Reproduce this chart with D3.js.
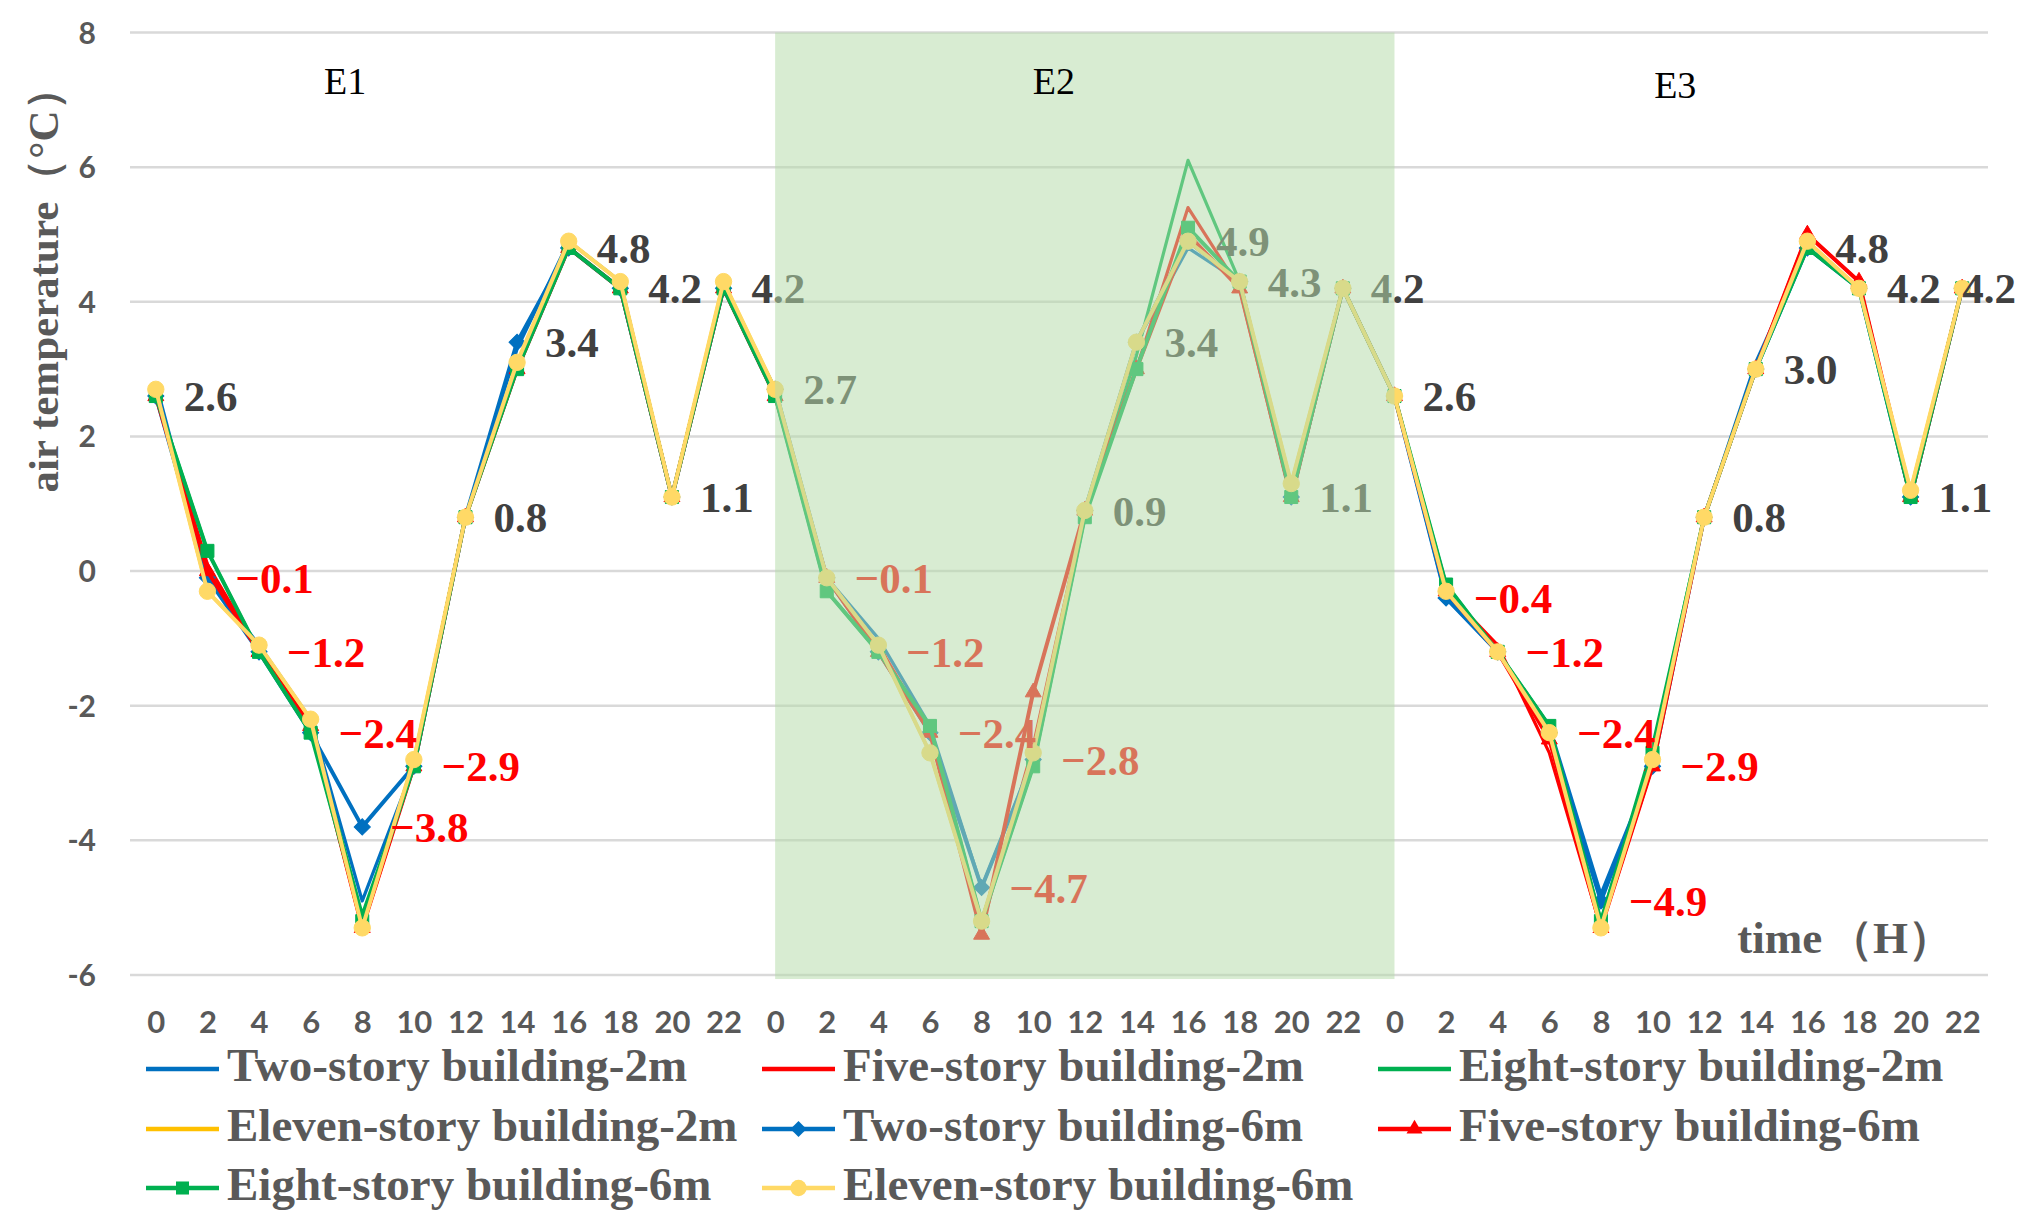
<!DOCTYPE html>
<html>
<head>
<meta charset="utf-8">
<script src="https://cdn.jsdelivr.net/npm/d3@7"></script>
<style>
  body { margin: 0; background: #fff; }
</style>
</head>
<body>
<svg id="chart"></svg>
<script>
// x categories: hours, repeated for the three experiments E1, E2, E3
const hours = [0, 2, 4, 6, 8, 10, 12, 14, 16, 18, 20, 22];
const timeLabels = hours.concat(hours, hours);
const yTicks = [-6, -4, -2, 0, 2, 4, 6, 8];

// air temperature (°C), 36 values each
const twoStory2m = [2.8, -0.1, -1.1, -2.2, -4.9, -2.9, 0.8, 3.3, 4.9, 4.3, 1.1, 4.2,
                    2.6, -0.1, -1.0, -2.3, -4.7, -2.8, 0.9, 3.4, 4.8, 4.3, 1.1, 4.2,
                    2.6, -0.4, -1.2, -2.3, -4.8, -2.9, 0.8, 3.1, 4.8, 4.2, 1.1, 4.2];
const fiveStory2m = [2.6, 0.1, -1.2, -2.3, -5.3, -2.9, 0.8, 3.0, 4.8, 4.2, 1.1, 4.2,
                     2.6, -0.1, -1.1, -2.4, -5.3, -2.6, 0.9, 3.0, 5.4, 4.2, 1.05, 4.2,
                     2.6, -0.3, -1.1, -2.7, -5.3, -2.9, 0.8, 3.0, 5.0, 4.3, 1.1, 4.2];
const eightStory2m = [2.6, 0.3, -1.2, -2.3, -5.1, -2.9, 0.8, 3.0, 4.8, 4.2, 1.1, 4.2,
                      2.6, -0.3, -1.2, -2.3, -5.2, -2.9, 0.8, 3.2, 6.1, 4.3, 1.1, 4.2,
                      2.6, -0.2, -1.2, -2.3, -5.2, -2.6, 0.8, 3.0, 4.8, 4.2, 1.1, 4.2];
const elevenStory2m = [2.7, -0.3, -1.1, -2.3, -5.3, -2.8, 0.8, 3.0, 4.9, 4.3, 1.1, 4.3,
                       2.7, -0.1, -1.1, -2.7, -5.2, -2.7, 0.9, 3.4, 4.9, 4.3, 1.3, 4.2,
                       2.6, -0.3, -1.2, -2.4, -5.3, -2.8, 0.8, 3.0, 4.9, 4.2, 1.2, 4.2];
const twoStory6m = [2.6, -0.1, -1.2, -2.4, -3.8, -2.9, 0.8, 3.4, 4.8, 4.2, 1.1, 4.2,
                    2.7, -0.1, -1.2, -2.4, -4.7, -2.8, 0.9, 3.4, 4.9, 4.3, 1.1, 4.2,
                    2.6, -0.4, -1.2, -2.4, -4.9, -2.9, 0.8, 3.0, 4.8, 4.2, 1.1, 4.2];
const fiveStory6m = [2.6, 0.0, -1.2, -2.3, -5.3, -2.9, 0.8, 3.0, 4.8, 4.2, 1.1, 4.2,
                     2.6, -0.1, -1.2, -2.4, -5.4, -1.8, 0.9, 3.0, 5.0, 4.2, 1.1, 4.2,
                     2.6, -0.3, -1.2, -2.5, -5.3, -2.9, 0.8, 3.0, 5.0, 4.3, 1.1, 4.2];
const eightStory6m = [2.6, 0.3, -1.2, -2.4, -5.2, -2.9, 0.8, 3.0, 4.8, 4.2, 1.1, 4.2,
                      2.6, -0.3, -1.2, -2.3, -5.2, -2.9, 0.8, 3.0, 5.1, 4.3, 1.1, 4.2,
                      2.6, -0.2, -1.2, -2.3, -5.2, -2.7, 0.8, 3.0, 4.8, 4.2, 1.1, 4.2];
const elevenStory6m = [2.7, -0.3, -1.1, -2.2, -5.3, -2.8, 0.8, 3.1, 4.9, 4.3, 1.1, 4.3,
                       2.7, -0.1, -1.1, -2.7, -5.2, -2.7, 0.9, 3.4, 4.9, 4.3, 1.3, 4.2,
                       2.6, -0.3, -1.2, -2.4, -5.3, -2.8, 0.8, 3.0, 4.9, 4.2, 1.2, 4.2];

// experiment names and where they sit (category index, temperature)
const experiments = ["E1", "E2", "E3"];
const experimentPos = [[3.67, 7.09], [17.4, 7.09], [29.44, 7.03]];
// shaded E2 range in category index
const shadedRange = [12, 24];

const series = [
  { name: "Two-story building-2m", values: twoStory2m, color: "#0070C0", marker: null },
  { name: "Five-story building-2m", values: fiveStory2m, color: "#FF0000", marker: null },
  { name: "Eight-story building-2m", values: eightStory2m, color: "#00B050", marker: null },
  { name: "Eleven-story building-2m", values: elevenStory2m, color: "#FFC000", marker: null },
  { name: "Two-story building-6m", values: twoStory6m, color: "#0070C0", marker: "diamond" },
  { name: "Five-story building-6m", values: fiveStory6m, color: "#FF0000", marker: "triangle" },
  { name: "Eight-story building-6m", values: eightStory6m, color: "#00B050", marker: "square" },
  { name: "Eleven-story building-6m", values: elevenStory6m, color: "#FFD966", marker: "circle" }
];

const svgWidth = 2028;
const svgHeight = 1232;
const plot = { left: 130, right: 1988, top: 32.5, bottom: 975 };

const svg = d3.select("#chart")
    .attr("width", svgWidth)
    .attr("height", svgHeight)
    .style("background", "#fff");

const x = d3.scaleLinear()
    .domain([-0.5, timeLabels.length - 0.5])
    .range([plot.left, plot.right]);

const y = d3.scaleLinear()
    .domain([-6, 8])
    .range([plot.bottom, plot.top]);

const serif = "'Liberation Serif', 'Times New Roman', serif";
const sans = "Lato, 'Open Sans', sans-serif";

// gridlines
svg.append("g")
  .selectAll("line")
  .data(yTicks)
  .enter().append("line")
    .attr("x1", plot.left)
    .attr("x2", plot.right)
    .attr("y1", d => y(d))
    .attr("y2", d => y(d))
    .attr("stroke", "#d9d9d9")
    .attr("stroke-width", 2.5);

// y axis
const yAxis = svg.append("g")
    .attr("transform", `translate(${plot.left},0)`)
    .call(d3.axisLeft(y).tickValues(yTicks).tickSize(0).tickFormat(d => d < 0 ? "-" + Math.abs(d) : d));
yAxis.select(".domain").remove();
yAxis.selectAll("text")
    .attr("x", -34)
    .attr("dy", "0.35em")
    .style("font-family", sans)
    .style("font-size", "30px")
    .style("font-weight", "bold")
    .style("fill", "#595959");

// x axis
const xAxis = svg.append("g")
    .attr("transform", `translate(0,${plot.bottom})`)
    .call(d3.axisBottom(x).tickValues(d3.range(timeLabels.length)).tickSize(0).tickFormat(i => timeLabels[i]));
xAxis.select(".domain").remove();
xAxis.selectAll("text")
    .attr("y", 47)
    .attr("dy", "0.35em")
    .style("font-family", sans)
    .style("font-size", "31px")
    .style("font-weight", "bold")
    .style("fill", "#595959");

// lines
const line = d3.line()
    .x((d, i) => x(i))
    .y(d => y(d));

const symbolFor = {
  diamond: d3.symbol().type(d3.symbolSquare).size(130),
  triangle: d3.symbol().type(d3.symbolTriangle).size(110),
  square: d3.symbol().type(d3.symbolSquare).size(170),
  circle: d3.symbol().type(d3.symbolCircle).size(210)
};

series.forEach(s => {
  svg.append("path")
      .datum(s.values)
      .attr("fill", "none")
      .attr("stroke", s.color)
      .attr("stroke-width", s.marker ? 4 : 3.2)
      .attr("stroke-linejoin", "round")
      .attr("d", line);

  if (s.marker) {
    svg.append("g")
      .selectAll("path")
      .data(s.values)
      .enter().append("path")
        .attr("d", symbolFor[s.marker])
        .attr("transform", (d, i) => `translate(${x(i)},${y(d)})` + (s.marker === "diamond" ? " rotate(45)" : ""))
        .attr("fill", s.color)
        .attr("stroke", s.color)
        .attr("stroke-width", 1);
  }
});

// data labels (Two-story building-6m)
const labels = svg.append("g")
  .selectAll("text")
  .data(twoStory6m)
  .enter().append("text")
    .attr("x", (d, i) => x(i) + 28)
    .attr("y", d => y(d))
    .attr("dy", "0.35em")
    .style("font-family", serif)
    .style("font-size", "43px")
    .style("font-weight", "bold")
    .style("fill", d => d < 0 ? "#FF0000" : "#404040")
    .text(d => d < 0 ? "\u2212" + Math.abs(d).toFixed(1) : d.toFixed(1));

// keep labels inside the chart on the right
labels.each(function () {
  const w = this.getComputedTextLength();
  const lx = +this.getAttribute("x");
  if (lx + w > 2016) this.setAttribute("x", 2016 - w);
});

// shaded E2 block
svg.append("rect")
    .attr("x", x(shadedRange[0]))
    .attr("width", x(shadedRange[1]) - x(shadedRange[0]))
    .attr("y", y(8))
    .attr("height", y(-6.06) - y(8))
    .attr("fill", "rgb(181,219,170)")
    .attr("fill-opacity", 0.53);

// experiment names
svg.append("g")
  .selectAll("text")
  .data(experiments)
  .enter().append("text")
    .attr("x", (d, i) => x(experimentPos[i][0]))
    .attr("y", (d, i) => y(experimentPos[i][1]))
    .attr("text-anchor", "middle")
    .style("font-family", serif)
    .style("font-size", "38px")
    .style("fill", "#000")
    .text(d => d);

// axis titles
svg.append("text")
    .attr("transform", "translate(58,280) rotate(-90)")
    .attr("text-anchor", "middle")
    .style("font-family", serif)
    .style("font-size", "43px")
    .style("font-weight", "bold")
    .style("fill", "#595959")
    .text("air temperature（°C）");

const timeTitle = svg.append("text")
    .attr("x", x(30.64))
    .attr("y", y(-5.67))
    .style("font-family", serif)
    .style("font-size", "45px")
    .style("font-weight", "bold")
    .style("fill", "#595959");
timeTitle.append("tspan").text("time");
timeTitle.append("tspan").attr("dx", 6).text("（H）");

// legend, three columns
const legendCols = [146, 762, 1378];
const legendRows = [1069, 1129, 1188];
const legend = svg.append("g")
  .selectAll("g")
  .data(series)
  .enter().append("g")
    .attr("transform", (d, i) => `translate(${legendCols[i % 3]},${legendRows[Math.floor(i / 3)]})`);

legend.append("line")
    .attr("x1", 0)
    .attr("x2", 73)
    .attr("stroke", d => d.color)
    .attr("stroke-width", 4.5);

legend.filter(d => d.marker)
  .append("path")
    .attr("d", d => symbolFor[d.marker]())
    .attr("transform", d => "translate(36.5,0)" + (d.marker === "diamond" ? " rotate(45)" : ""))
    .attr("fill", d => d.color);

legend.append("text")
    .attr("x", 81)
    .attr("dy", "0.25em")
    .style("font-family", serif)
    .style("font-size", "47px")
    .style("font-weight", "bold")
    .style("fill", "#595959")
    .text(d => d.name);
</script>
</body>
</html>
